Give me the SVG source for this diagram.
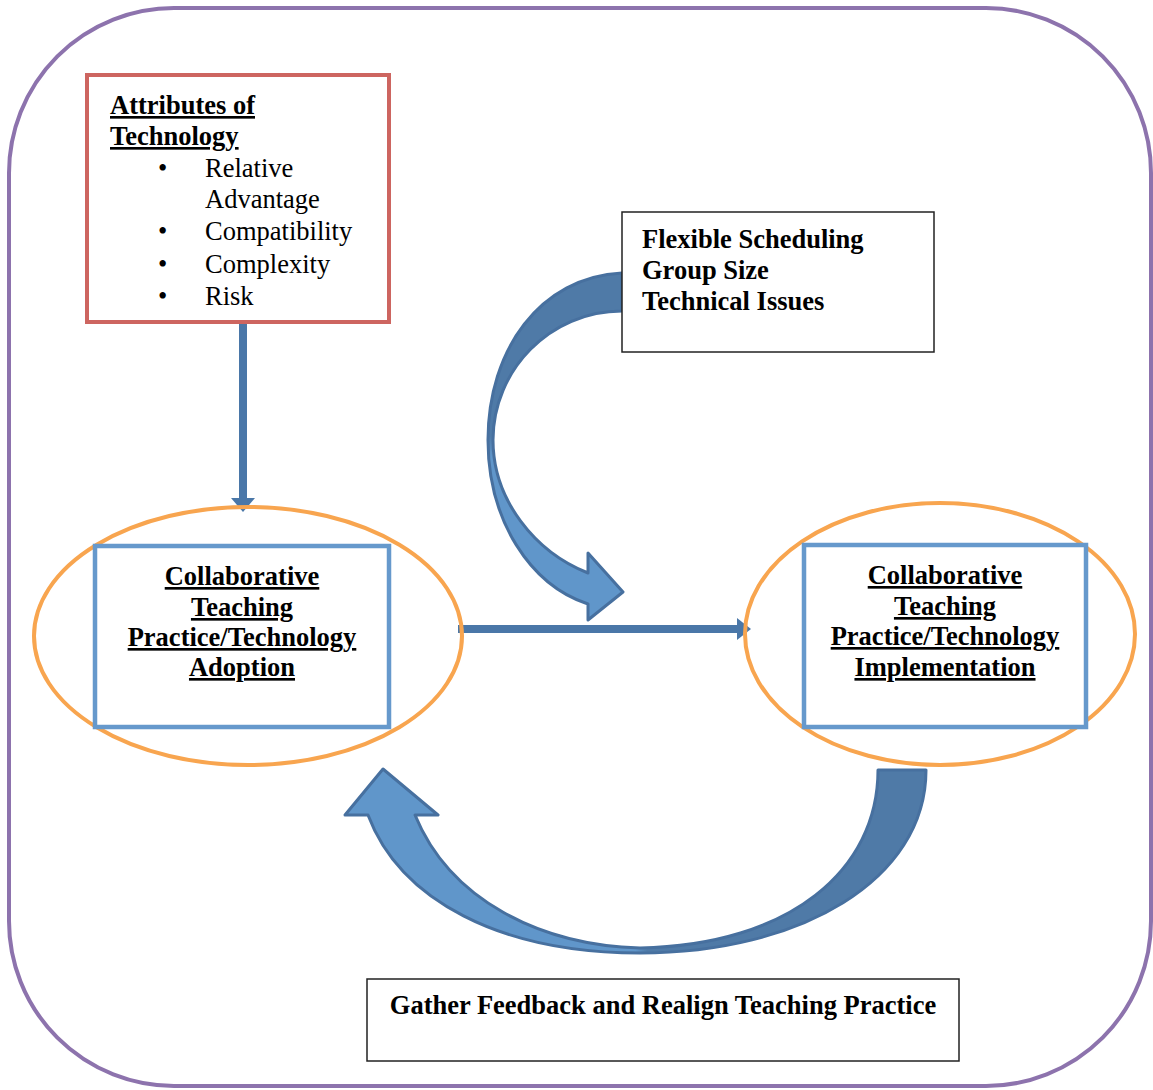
<svg xmlns="http://www.w3.org/2000/svg" width="1153" height="1090" viewBox="0 0 1153 1090">
<style>
text{font-family:"Liberation Serif","Times New Roman",serif;font-size:26.5px;fill:#000}
.b{font-weight:bold}
.u{text-decoration:underline}
.c{text-anchor:middle}
.ell{fill:none;stroke:#f8a54f;stroke-width:4}
.blue{fill:#fff;stroke:#6699cc;stroke-width:4.5}
.thin{fill:#fff;stroke:#222;stroke-width:1.5}
.conn{stroke:#47709f;stroke-width:3;stroke-linejoin:round}
</style>
<defs>
<linearGradient id="g1" gradientUnits="userSpaceOnUse" x1="0" y1="273" x2="0" y2="620">
<stop offset="0" stop-color="#4f7aa7"/><stop offset="0.47" stop-color="#4f7aa7"/><stop offset="0.53" stop-color="#6096ca"/><stop offset="1" stop-color="#6096ca"/>
</linearGradient>
<linearGradient id="g2" gradientUnits="userSpaceOnUse" x1="345" y1="0" x2="926" y2="0">
<stop offset="0" stop-color="#6096ca"/><stop offset="0.5" stop-color="#6096ca"/><stop offset="0.52" stop-color="#4f7aa7"/><stop offset="1" stop-color="#4f7aa7"/>
</linearGradient>
</defs>
<rect x="9" y="8" width="1142" height="1078" rx="165" ry="165" fill="none" stroke="#8d73ad" stroke-width="4"/>

<g id="connectors">
<path d="M243 322 V498" fill="none" stroke="#4a77a8" stroke-width="8"/>
<polygon points="231,498 255,498 243,512" fill="#4a77a8"/>
<path d="M458 629 H738" stroke="#4a77a8" stroke-width="8" fill="none"/>
<polygon points="737,618 737,640 751,629" fill="#4a77a8"/>
<path class="conn" fill="url(#g1)" d="M622 273 C540 277 488 350 488 440 C488 520 530 585 588 604 L588 620 L623 592 L588 553 L588 573 C535 552 493 500 493 440 C493 370 550 311 622 311 Z"/>
<path class="conn" fill="url(#g2)" d="M926 770 C926 880 800 953 640 953 C500 953 400 900 368 815 L345 815 L383 769 L438 815 L415 815 C450 900 540 945 640 948 C790 945 878 870 878 770 Z"/>
</g>

<g id="attributes">
<rect x="87" y="75" width="302" height="247" fill="#fff" stroke="#cd6560" stroke-width="4"/>
<text x="110" y="114" class="b u">Attributes of</text>
<text x="110" y="145" class="b u">Technology</text>
<text x="158" y="177">•</text><text x="205" y="177">Relative</text>
<text x="205" y="208">Advantage</text>
<text x="158" y="240">•</text><text x="205" y="240">Compatibility</text>
<text x="158" y="273">•</text><text x="205" y="273">Complexity</text>
<text x="158" y="305">•</text><text x="205" y="305">Risk</text>
</g>

<g id="flex">
<rect class="thin" x="622" y="212" width="312" height="140"/>
<text x="642" y="248" class="b">Flexible Scheduling</text>
<text x="642" y="279" class="b">Group Size</text>
<text x="642" y="310" class="b">Technical Issues</text>
</g>

<g id="adoption">
<ellipse class="ell" cx="248" cy="636" rx="214" ry="129"/>
<rect class="blue" x="95" y="546" width="294" height="181"/>
<text x="242" y="585" class="b u c">Collaborative</text>
<text x="242" y="616" class="b u c">Teaching</text>
<text x="242" y="646" class="b u c">Practice/Technology</text>
<text x="242" y="676" class="b u c">Adoption</text>
</g>

<g id="implementation">
<ellipse class="ell" cx="940" cy="634" rx="195" ry="131"/>
<rect class="blue" x="804" y="545" width="282" height="182"/>
<text x="945" y="584" class="b u c">Collaborative</text>
<text x="945" y="615" class="b u c">Teaching</text>
<text x="945" y="645" class="b u c">Practice/Technology</text>
<text x="945" y="676" class="b u c">Implementation</text>
</g>

<g id="feedback">
<rect class="thin" x="367" y="979" width="592" height="82"/>
<text x="663" y="1014" class="b c">Gather Feedback and Realign Teaching Practice</text>
</g>
</svg>
